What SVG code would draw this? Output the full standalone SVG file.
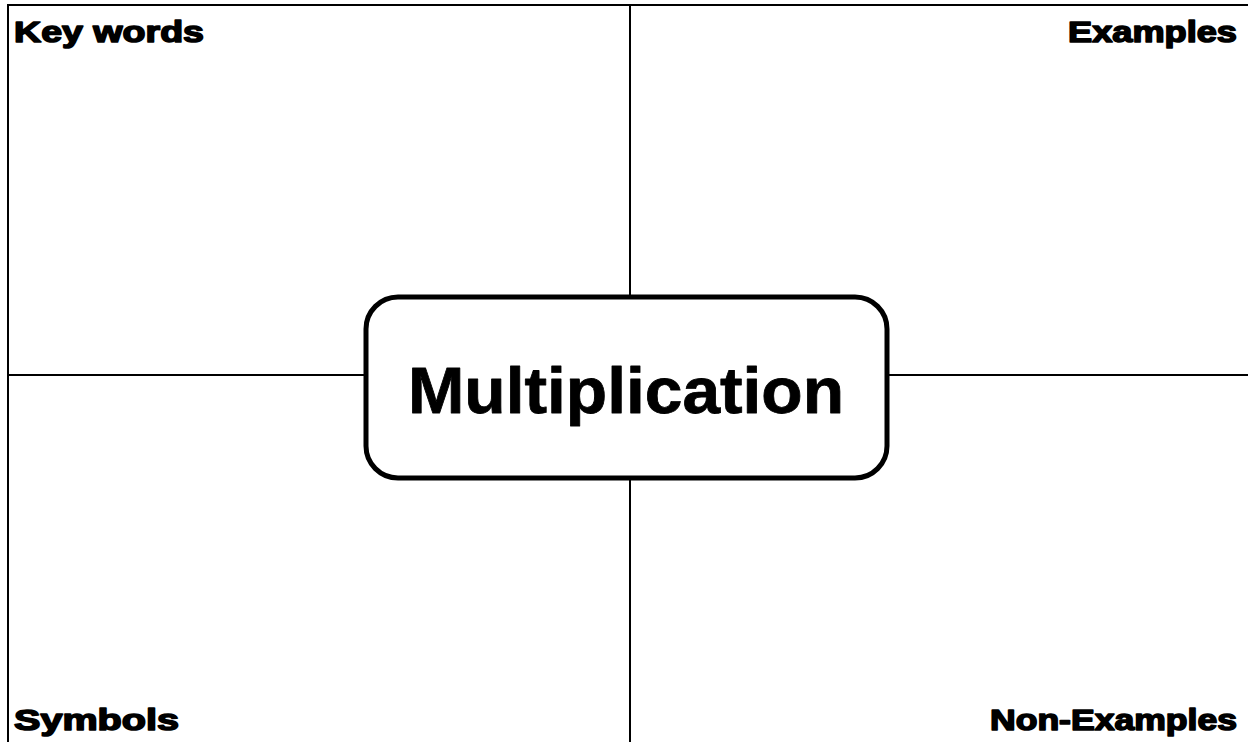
<svg xmlns="http://www.w3.org/2000/svg" width="1248" height="742" viewBox="0 0 1248 742">
<style>
.ln{stroke:#000;stroke-width:2;fill:none}
.lbl{font-family:"Liberation Sans",Arial,sans-serif;font-weight:bold;font-size:30px;fill:#000;stroke:#000;stroke-width:1.6;stroke-linejoin:round}
.title{font-family:"Liberation Sans",Arial,sans-serif;font-weight:bold;font-size:64px;fill:#000;stroke:#000;stroke-width:0.8;stroke-linejoin:round}
</style>
<rect width="1248" height="742" fill="#fff"/>
<g id="connectors">
<line class="ln" x1="7" y1="5" x2="1248" y2="5"/>
<line class="ln" x1="8" y1="5" x2="8" y2="742"/>
<line class="ln" x1="630" y1="5" x2="630" y2="297"/>
<line class="ln" x1="630" y1="478" x2="630" y2="742"/>
<line class="ln" x1="8" y1="375" x2="366" y2="375"/>
<line class="ln" x1="887" y1="375" x2="1248" y2="375"/>
</g>
<g id="key-words"><text class="lbl" x="14" y="42" textLength="190" lengthAdjust="spacingAndGlyphs">Key words</text></g>
<g id="examples"><text class="lbl" x="1068" y="42" textLength="169" lengthAdjust="spacingAndGlyphs">Examples</text></g>
<g id="symbols"><text class="lbl" x="14" y="730" textLength="165" lengthAdjust="spacingAndGlyphs">Symbols</text></g>
<g id="non-examples"><text class="lbl" x="990" y="730" textLength="247" lengthAdjust="spacingAndGlyphs">Non-Examples</text></g>
<g id="center">
<rect x="366" y="297" width="521" height="181" rx="32" ry="32" fill="#fff" stroke="#000" stroke-width="5"/>
<text class="title" x="408" y="413" textLength="436" lengthAdjust="spacingAndGlyphs">Multiplication</text>
</g>
</svg>
